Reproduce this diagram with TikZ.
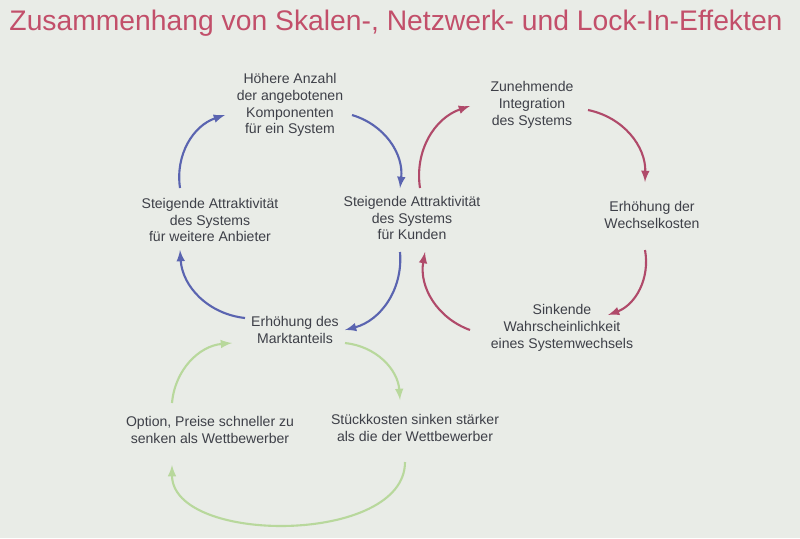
\documentclass[tikz,border=0pt]{standalone}
\usepackage{fontspec}
\setmainfont{Liberation Sans}
\definecolor{bgcol}{HTML}{E9ECE7}
\definecolor{titlecol}{HTML}{C24F6A}
\definecolor{txtcol}{HTML}{3E4048}
\definecolor{bluearr}{HTML}{5A64B0}
\definecolor{redarr}{HTML}{B04A6A}
\definecolor{greenarr}{HTML}{B8D89C}
\tikzset{
  lbl/.style={align=center, text=txtcol, font=\fontsize{8}{9.6}\selectfont},
  cyc/.style={-latex, line width=1.2pt},
}
\begin{document}
\begin{tikzpicture}[x=0.02cm, y=-0.02cm]
  \fill[bgcol] (0,0) rectangle (800,538);
  \useasboundingbox (0,0) rectangle (800,538);

  \node[text=titlecol, font=\fontsize{16.1}{19}\selectfont] (title) at (396,23) {Zusammenhang von Skalen-, Netzwerk- und Lock-In-Effekten};

  % Netzwerkeffekte
  \node[lbl] (anzahl) at (290,105) {Höhere Anzahl\\der angebotenen\\Komponenten\\für ein System};
  \node[lbl] (anbieter) at (210,220) {Steigende Attraktivität\\des Systems\\für weitere Anbieter};
  \node[lbl] (kunden) at (412,218) {Steigende Attraktivität\\des Systems\\für Kunden};
  \node[lbl] (markt) at (295,330) {Erhöhung des\\Marktanteils};

  % Lock-In
  \node[lbl] (integration) at (532,105) {Zunehmende\\Integration\\des Systems};
  \node[lbl] (wechsel) at (652,215) {Erhöhung der\\Wechselkosten};
  \node[lbl] (sinkend) at (562,328) {Sinkende\\Wahrscheinlichkeit\\eines Systemwechsels};

  % Skaleneffekte
  \node[lbl] (option) at (210,430) {Option, Preise schneller zu\\senken als Wettbewerber};
  \node[lbl] (stueck) at (415,428) {Stückkosten sinken stärker\\als die der Wettbewerber};

  \coordinate (loopl) at (172,465);
  \coordinate (loopr) at (405,462);

  \draw[cyc, bluearr] (180,188) to[bend left=40] (225,115);
  \draw[cyc, bluearr] (352,115) to[bend left=40] (400,188);
  \draw[cyc, bluearr] (400,252) to[bend left=40] (345,330);
  \draw[cyc, bluearr] (245,318) to[bend left=40] (180,250);

  \draw[cyc, redarr] (420,188) to[bend left=40] (470,106);
  \draw[cyc, redarr] (588,110) to[bend left=40] (645,182);
  \draw[cyc, redarr] (645,250) to[bend left=40] (608,315);
  \draw[cyc, redarr] (470,330) to[bend left=40] (425,252);

  \draw[cyc, greenarr] (345,343) to[bend left=40] (400,400);
  \draw[cyc, greenarr] (loopr) .. controls (405,545) and (172,545) .. (loopl);
  \draw[cyc, greenarr] (172,403) to[bend left=40] (232,343);
\end{tikzpicture}
\end{document}
